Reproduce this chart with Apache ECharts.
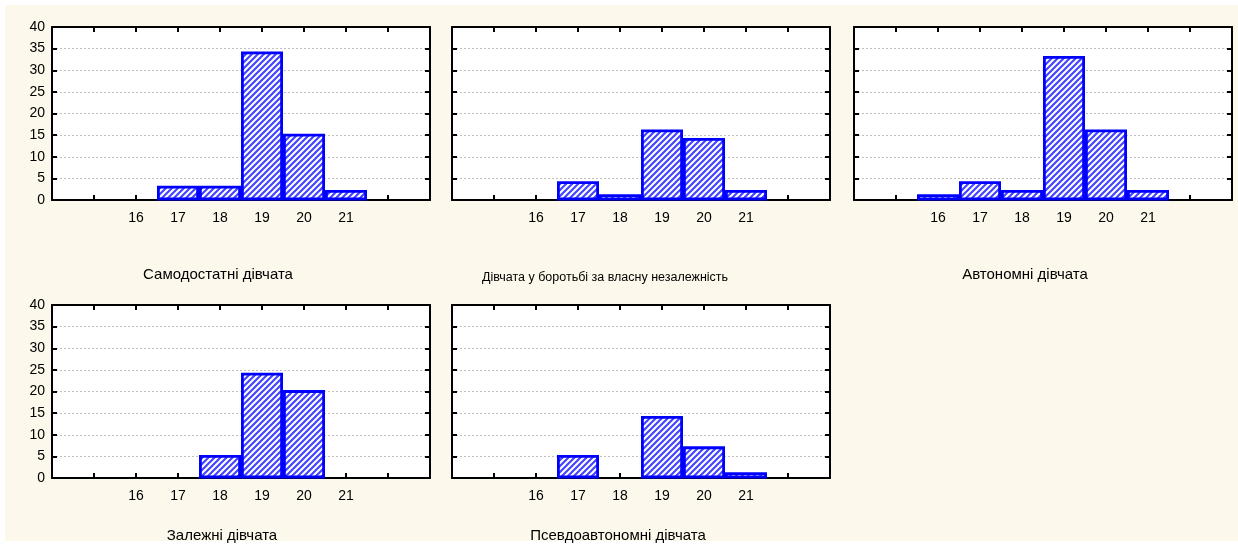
<!DOCTYPE html>
<html>
<head>
<meta charset="utf-8">
<script src="https://cdn.jsdelivr.net/npm/echarts@6/dist/echarts.min.js"></script>
<style>
html,body{margin:0;padding:0;background:#fff;}
#chart{width:1238px;height:545px;}
</style>
</head>
<body>
<div id="chart"></div>
<script>
// ---- data ----
const ages = [16, 17, 18, 19, 20, 21];
const selfSufficient = [0, 3, 3, 34, 15, 2];
const struggling = [0, 4, 1, 16, 14, 2];
const autonomous = [1, 4, 2, 33, 16, 2];
const dependent = [0, 0, 5, 24, 20, 0];
const pseudoAutonomous = [0, 5, 0, 14, 7, 1];
const panelNames = [
  'Самодостатні дівчата',
  'Дівчата у боротьбі за власну незалежність',
  'Автономні дівчата',
  'Залежні дівчата',
  'Псевдоавтономні дівчата'
];
const panelValues = [selfSufficient, struggling, autonomous, dependent, pseudoAutonomous];
const yTickStep = 5;
const yMax = 40;
const xMin = 14, xMax = 23;

// ---- layout ----
const boxes = [
  {left: 52, top: 27}, {left: 452, top: 27}, {left: 854, top: 27},
  {left: 52, top: 305}, {left: 452, top: 305}
];
const BW = 378, BH = 173;
const nameLayout = [
  {x: 218, y: 275, size: 15}, {x: 605, y: 278, size: 12.5}, {x: 1025, y: 275, size: 15},
  {x: 222, y: 536, size: 15}, {x: 618, y: 536, size: 15}
];
const FONT = 'Liberation Sans, Arial, sans-serif';

// hatch pattern
const pc = document.createElement('canvas');
pc.width = 6; pc.height = 6;
const g = pc.getContext('2d');
g.fillStyle = '#ffffff'; g.fillRect(0, 0, 6, 6);
g.strokeStyle = '#4545ff'; g.lineWidth = 2.2;
g.beginPath();
g.moveTo(-1, 7); g.lineTo(7, -1);
g.moveTo(-4, 4); g.lineTo(4, -4);
g.moveTo(2, 10); g.lineTo(10, 2);
g.stroke();

const grids = [], xAxes = [], yAxes = [], series = [], graphics = [];
graphics.push({type: 'rect', shape: {x: 0, y: 0, width: 1238, height: 5}, style: {fill: '#fff'}, silent: true});
graphics.push({type: 'rect', shape: {x: 0, y: 0, width: 5, height: 545}, style: {fill: '#fff'}, silent: true});
graphics.push({type: 'rect', shape: {x: 0, y: 541, width: 1238, height: 4}, style: {fill: '#fff'}, silent: true, z: -1});

const axisLine = {show: true, onZero: false, lineStyle: {color: '#000', width: 2}};
const tick = {show: true, inside: true, length: 5, lineStyle: {color: '#000', width: 2}};

boxes.forEach((b, i) => {
  grids.push({left: b.left, top: b.top, width: BW, height: BH, show: true,
    backgroundColor: '#ffffff', borderWidth: 0, containLabel: false});
  const xi = xAxes.length;
  xAxes.push({gridIndex: i, type: 'value', min: xMin, max: xMax, interval: 1, position: 'bottom',
    axisLine: axisLine, axisTick: tick, splitLine: {show: false},
    axisLabel: {margin: 11, fontSize: 14, color: '#000', fontFamily: FONT,
      formatter: v => ages.indexOf(v) >= 0 ? String(v) : ''}});
  xAxes.push({gridIndex: i, type: 'value', min: xMin, max: xMax, interval: 1, position: 'top',
    axisLine: axisLine, axisTick: tick, splitLine: {show: false}, axisLabel: {show: false}});
  const yi = yAxes.length;
  const showY = (i === 0 || i === 3);
  yAxes.push({gridIndex: i, type: 'value', min: 0, max: yMax, interval: yTickStep, position: 'left',
    axisLine: axisLine, axisTick: tick,
    splitLine: {show: true, lineStyle: {color: '#c0c0c0', width: 1, type: [2, 2]}},
    axisLabel: {show: showY, margin: 7, fontSize: 14, color: '#000', fontFamily: FONT}});
  yAxes.push({gridIndex: i, type: 'value', min: 0, max: yMax, interval: yTickStep, position: 'right',
    axisLine: axisLine, axisTick: tick, splitLine: {show: false}, axisLabel: {show: false}});

  const data = ages.map((a, k) => [a, panelValues[i][k]]).filter(d => d[1] > 0);
  series.push({
    type: 'custom', xAxisIndex: xi, yAxisIndex: yi, data: data, clip: false, z: 5,
    renderItem: function (params, api) {
      const x = api.value(0), y = api.value(1);
      const p1 = api.coord([x - 0.5, y]);
      const p0 = api.coord([x + 0.5, 0]);
      return {
        type: 'rect',
        shape: {x: p1[0] + 1.4, y: p1[1], width: p0[0] - p1[0] - 2.8, height: p0[1] - p1[1] - 1},
        style: {fill: {image: pc, repeat: 'repeat'}, stroke: '#0000ff', lineWidth: 2.8}
      };
    }
  });

  const nl = nameLayout[i];
  graphics.push({type: 'text', x: nl.x, y: nl.y, silent: true,
    style: {text: panelNames[i], fill: '#000', fontSize: nl.size, fontFamily: FONT,
      align: 'center', verticalAlign: 'middle'}});
});

const chart = echarts.init(document.getElementById('chart'), null, {renderer: 'canvas'});
chart.setOption({
  backgroundColor: '#fdf8ec',
  animation: false,
  grid: grids,
  xAxis: xAxes,
  yAxis: yAxes,
  series: series,
  graphic: graphics
});
</script>
</body>
</html>
